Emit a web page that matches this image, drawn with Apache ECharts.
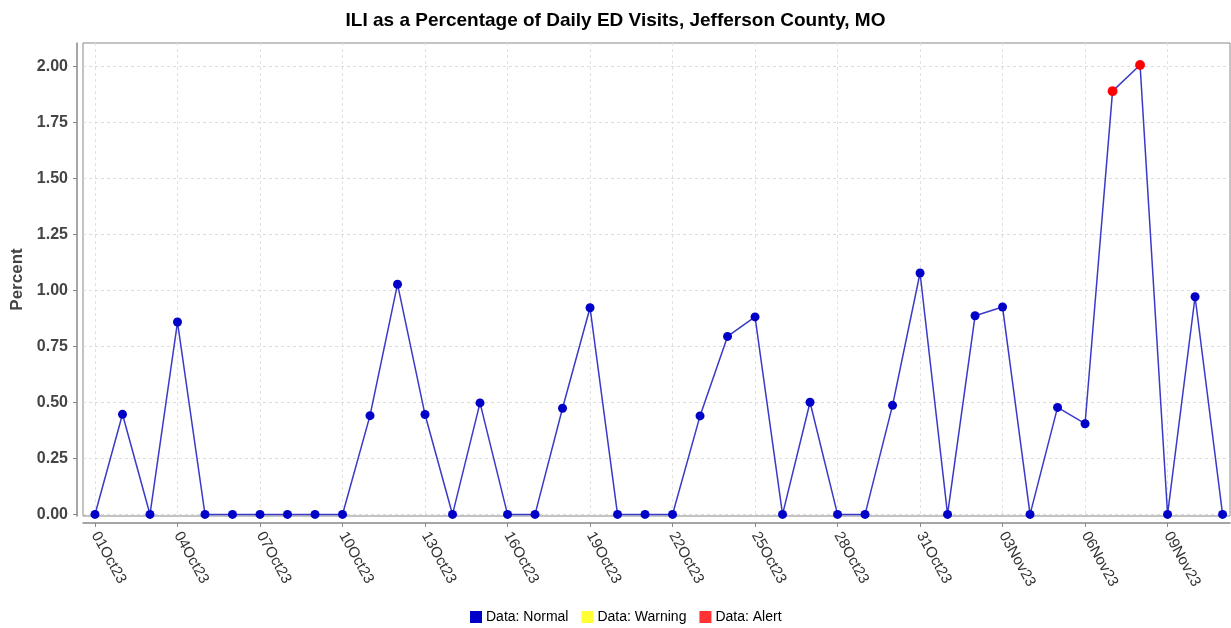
<!DOCTYPE html>
<html>
<head>
<meta charset="utf-8">
<script src="https://cdn.jsdelivr.net/npm/echarts@6/dist/echarts.min.js"></script>
<style>
  html, body { margin: 0; padding: 0; background: #fff; }
  #chart { width: 1231px; height: 628px; }
</style>
</head>
<body>
<div id="chart"></div>
<script>
// one entry per day, 01Oct23 .. 11Nov23
var dates = [
    '01Oct23', '02Oct23', '03Oct23', '04Oct23', '05Oct23', '06Oct23', '07Oct23',
    '08Oct23', '09Oct23', '10Oct23', '11Oct23', '12Oct23', '13Oct23', '14Oct23',
    '15Oct23', '16Oct23', '17Oct23', '18Oct23', '19Oct23', '20Oct23', '21Oct23',
    '22Oct23', '23Oct23', '24Oct23', '25Oct23', '26Oct23', '27Oct23', '28Oct23',
    '29Oct23', '30Oct23', '31Oct23', '01Nov23', '02Nov23', '03Nov23', '04Nov23',
    '05Nov23', '06Nov23', '07Nov23', '08Nov23', '09Nov23', '10Nov23', '11Nov23'
];
var percent = [
    0, 0.447, 0, 0.859, 0, 0, 0,
    0, 0, 0, 0.441, 1.028, 0.446, 0,
    0.498, 0, 0, 0.474, 0.923, 0, 0,
    0, 0.44, 0.795, 0.882, 0, 0.501, 0,
    0, 0.487, 1.078, 0, 0.887, 0.926, 0,
    0.478, 0.405, 1.89, 2.007, 0, 0.972, 0
];
// N = normal, W = warning, A = alert
var alertLevel = [
    'N', 'N', 'N', 'N', 'N', 'N', 'N',
    'N', 'N', 'N', 'N', 'N', 'N', 'N',
    'N', 'N', 'N', 'N', 'N', 'N', 'N',
    'N', 'N', 'N', 'N', 'N', 'N', 'N',
    'N', 'N', 'N', 'N', 'N', 'N', 'N',
    'N', 'N', 'A', 'A', 'N', 'N', 'N'
];
var xTickDays = [0, 3, 6, 9, 12, 15, 18, 21, 24, 27, 30, 33, 36, 39];
var yTicks = [0, 0.25, 0.5, 0.75, 1, 1.25, 1.5, 1.75, 2];

var font = 'Liberation Sans, Arial, sans-serif';
var levelColors = { N: '#0000c8', W: '#ffff00', A: '#ff0000' };

function pointsWith(flag) {
    var out = [];
    for (var i = 0; i < percent.length; i++) {
        if (alertLevel[i] === flag) {
            out.push([i, percent[i]]);
        }
    }
    return out;
}

// the line runs through every day; each marker takes its level's colour
var allPoints = percent.map(function (v, i) {
    return { value: [i, v], itemStyle: { color: levelColors[alertLevel[i]] } };
});

var chart = echarts.init(document.getElementById('chart'));
chart.setOption({
    animation: false,
    backgroundColor: '#fff',
    title: {
        text: 'ILI as a Percentage of Daily ED Visits, Jefferson County, MO',
        left: 'center',
        top: 6,
        textStyle: { fontFamily: font, fontSize: 19, fontWeight: 'bold', color: '#000' }
    },
    legend: {
        top: 605,
        left: 465,
        icon: 'rect',
        itemWidth: 12,
        itemHeight: 12,
        itemGap: 13,
        textStyle: { fontFamily: font, fontSize: 14, color: '#000', padding: [0, 0, 0, -1] },
        data: ['Data: Normal', 'Data: Warning', 'Data: Alert']
    },
    grid: {
        left: 83,
        right: 1,
        top: 43,
        bottom: 112,
        show: true,
        borderColor: '#888',
        borderWidth: 1
    },
    xAxis: {
        type: 'value',
        min: -0.436,
        max: 41.27,
        offset: 7,
        axisLine: { show: true, onZero: false, lineStyle: { color: '#888', width: 1.5 } },
        axisTick: { show: true, length: 4, customValues: xTickDays, lineStyle: { color: '#888' } },
        splitLine: { show: true, lineStyle: { color: '#e2e2e2', type: [3, 3] } },
        axisLabel: {
            customValues: xTickDays,
            rotate: -61,
            margin: 10,
            fontFamily: font,
            fontSize: 15,
            color: '#333',
            formatter: function (v) { return dates[Math.round(v)]; }
        }
    },
    yAxis: {
        type: 'value',
        name: 'Percent',
        nameLocation: 'middle',
        nameGap: 51,
        nameTextStyle: { fontFamily: font, fontSize: 17, fontWeight: 'bold', color: '#444' },
        min: -0.007,
        max: 2.105,
        offset: 6,
        axisLine: { show: true, onZero: false, lineStyle: { color: '#888', width: 1.5 } },
        axisTick: { show: true, length: 4, customValues: yTicks, lineStyle: { color: '#888' } },
        splitLine: { show: true, lineStyle: { color: '#dcdcdc', type: [3, 3] } },
        axisLabel: {
            customValues: yTicks,
            margin: 9,
            fontFamily: font,
            fontSize: 16,
            fontWeight: 'bold',
            color: '#444',
            formatter: function (v) { return v.toFixed(2); }
        }
    },
    series: [
        {
            name: 'Data: Normal',
            type: 'line',
            data: allPoints,
            symbol: 'circle',
            symbolSize: 9,
            clip: false,
            itemStyle: { color: levelColors.N },
            lineStyle: { color: '#3a3ac8', width: 1.5 },
            z: 2
        },
        {
            name: 'Data: Warning',
            type: 'scatter',
            data: pointsWith('W'),
            symbolSize: 10,
            itemStyle: { color: levelColors.W },
            z: 3
        },
        {
            name: 'Data: Alert',
            type: 'scatter',
            data: pointsWith('A'),
            symbolSize: 10,
            itemStyle: { color: levelColors.A },
            z: 3
        }
    ]
});
</script>
</body>
</html>
